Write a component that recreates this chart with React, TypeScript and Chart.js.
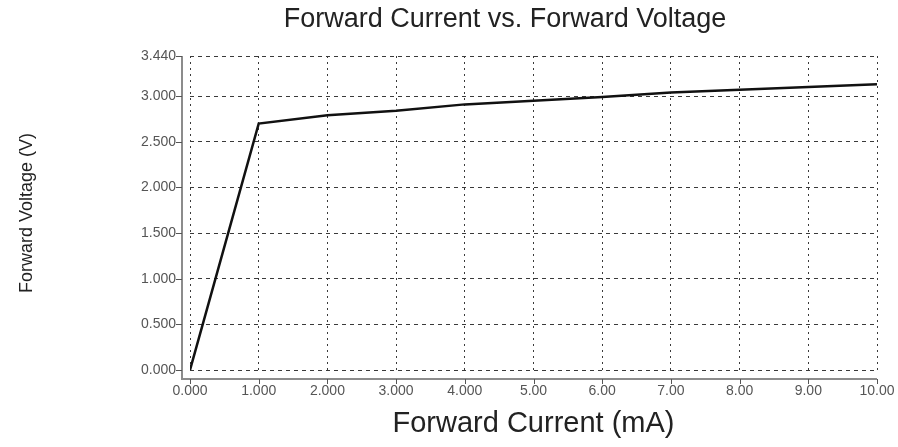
import React, { useEffect, useRef } from "react";
import { Chart, registerables } from "chart.js";

Chart.register(...registerables);

const chartTitle = "Forward Current vs. Forward Voltage";
const currentMA = [0, 1, 2, 3, 4, 5, 6, 7, 8, 9, 10];
const voltageV = [0, 2.7, 2.79, 2.84, 2.91, 2.95, 2.99, 3.04, 3.07, 3.1, 3.13];
const xTickValues = [0, 1, 2, 3, 4, 5, 6, 7, 8, 9, 10];
const xTickLabels = ["0.000", "1.000", "2.000", "3.000", "4.000", "5.00", "6.00", "7.00", "8.00", "9.00", "10.00"];
const yTickValues = [0, 0.5, 1, 1.5, 2, 2.5, 3, 3.44];
const yTickLabels = ["0.000", "0.500", "1.000", "1.500", "2.000", "2.500", "3.000", "3.440"];

const SANS = "'Liberation Sans', Arial, sans-serif";

const offsetAxes = {
  id: "offsetAxes",
  afterDraw(chart: any) {
    const { ctx, chartArea } = chart;
    const { left, right, top, bottom } = chartArea;
    const xs = chart.scales.x;
    const ys = chart.scales.y;
    const ax = left - 8;
    const ay = bottom + 9;
    ctx.save();
    ctx.strokeStyle = "#8c8c8c";
    ctx.lineWidth = 2;
    ctx.beginPath();
    ctx.moveTo(ax, top);
    ctx.lineTo(ax, ay);
    ctx.lineTo(right, ay);
    ctx.stroke();
    ctx.strokeStyle = "#555";
    ctx.lineWidth = 1;
    ctx.beginPath();
    yTickValues.forEach((v) => {
      const py = Math.round(ys.getPixelForValue(v)) + 0.5;
      ctx.moveTo(ax - 6, py);
      ctx.lineTo(ax, py);
    });
    xTickValues.forEach((v) => {
      const px = Math.round(xs.getPixelForValue(v)) + 0.5;
      ctx.moveTo(px, ay);
      ctx.lineTo(px, ay + 5);
    });
    ctx.stroke();
    // chart title
    ctx.fillStyle = "#222";
    ctx.font = "27px " + SANS;
    ctx.textAlign = "center";
    ctx.textBaseline = "middle";
    ctx.fillText(chartTitle, 505, 20);
    ctx.restore();
  },
};

export default function App() {
  const ref = useRef<HTMLCanvasElement | null>(null);
  useEffect(() => {
    if (!ref.current) return;
    const chart = new Chart(ref.current, {
      type: "line",
      data: {
        datasets: [
          {
            data: currentMA.map((c, i) => ({ x: c, y: voltageV[i] })),
            borderColor: "#111",
            borderWidth: 2.5,
            pointRadius: 0,
            tension: 0,
            fill: false,
          },
        ],
      },
      options: {
        animation: false,
        responsive: true,
        maintainAspectRatio: false,
        layout: { padding: { left: 0, right: 21, top: 56, bottom: 0 } },
        plugins: {
          legend: { display: false },
          tooltip: { enabled: false },
          title: { display: false },
        },
        scales: {
          x: {
            type: "linear",
            min: 0,
            max: 10,
            afterBuildTicks: (s: any) => {
              s.ticks = xTickValues.map((v) => ({ value: v }));
            },
            afterFit: (s: any) => {
              s.height = 77;
              s.paddingLeft = 0;
              s.paddingRight = 0;
            },
            ticks: {
              autoSkip: false,
              maxRotation: 0,
              padding: 13,
              color: "#555",
              font: { family: SANS, size: 14 },
              callback: (_v: any, i: number) => xTickLabels[i],
            },
            grid: { color: "#3a3a3a", lineWidth: 1, drawTicks: false },
            border: { display: false, dash: [2, 4] },
            title: {
              display: true,
              text: "Forward Current (mA)",
              color: "#222",
              font: { family: SANS, size: 29, weight: "normal" },
              padding: { top: 0, bottom: 6 },
            },
          },
          y: {
            type: "linear",
            min: 0,
            max: 3.44,
            afterBuildTicks: (s: any) => {
              s.ticks = yTickValues.map((v) => ({ value: v }));
            },
            afterFit: (s: any) => {
              s.width = 190;
              s.paddingTop = 0;
              s.paddingBottom = 0;
            },
            ticks: {
              autoSkip: false,
              padding: 14,
              color: "#555",
              font: { family: SANS, size: 14 },
              callback: (_v: any, i: number) => yTickLabels[i],
            },
            grid: { color: "#3a3a3a", lineWidth: 1, drawTicks: false },
            border: { display: false, dash: [4, 4] },
            title: {
              display: true,
              text: "Forward Voltage (V)",
              color: "#222",
              font: { family: SANS, size: 18, weight: "normal" },
              padding: { top: 16, bottom: 0 },
            },
          },
        },
      },
      plugins: [offsetAxes],
    });
    return () => chart.destroy();
  }, []);
  return (
    <div style={{ position: "fixed", left: 0, top: 0, width: 898, height: 447, background: "#fff" }}>
      <canvas ref={ref} />
    </div>
  );
}
